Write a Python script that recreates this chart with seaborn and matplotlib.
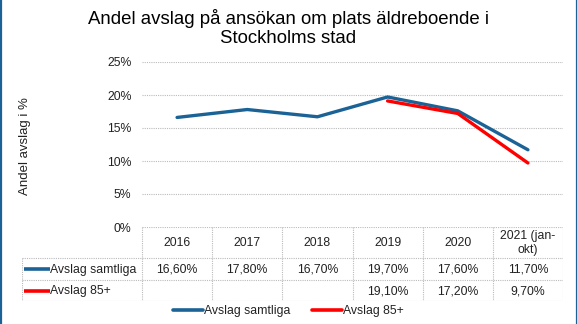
import matplotlib
matplotlib.use("Agg")
import matplotlib.pyplot as plt
from matplotlib.lines import Line2D
import seaborn as sns
import pandas as pd
import numpy as np

years = ["2016", "2017", "2018", "2019", "2020", "2021 (jan-\nokt)"]
samtliga = [16.6, 17.8, 16.7, 19.7, 17.6, 11.7]
avslag85 = [None, None, None, 19.1, 17.2, 9.7]
series_names = ["Avslag samtliga", "Avslag 85+"]
yticks = [0, 5, 10, 15, 20, 25]

BLUE = "#1B6396"
RED = "#FF0000"
colors = [BLUE, RED]
FS = 8.8

sns.set_theme(style="white")
plt.rcParams["font.family"] = ["Liberation Sans", "DejaVu Sans"]

W, H = 577, 324
fig = plt.figure(figsize=(W / 100, H / 100), dpi=100)

def px_box(x0, y0, x1, y1):
    return [x0 / W, 1 - y1 / H, (x1 - x0) / W, (y1 - y0) / H]

ax = fig.add_axes(px_box(142, 62, 563, 227))

rows = []
for i, y in enumerate(years):
    rows.append({"x": i, "value": samtliga[i], "serie": series_names[0]})
    if avslag85[i] is not None:
        rows.append({"x": i, "value": avslag85[i], "serie": series_names[1]})
df = pd.DataFrame(rows)

sns.lineplot(data=df, x="x", y="value", hue="serie", palette=colors,
             hue_order=series_names, linewidth=2.4, ax=ax, legend=False)

ax.set_xlim(-0.5, len(years) - 0.5)
ax.set_ylim(0, 25)
ax.set_yticks(yticks)
ax.set_yticklabels([f"{t}%" for t in yticks], fontsize=FS, color="#222222")
ax.set_xticks([])
ax.set_xlabel("")
ax.set_ylabel("")
for sp in ax.spines.values():
    sp.set_visible(False)
ax.tick_params(axis="y", length=0, pad=7.5)
for t in yticks[1:]:
    ax.axhline(t, color="#BBBBBB", lw=0.8, ls=(0, (1, 1)), zorder=0)

# data table
tab = fig.add_axes(px_box(22, 227, 563, 301))
tab.set_xlim(22, 563)
tab.set_ylim(301, 227)
tab.axis("off")
gc = "#BBBBBB"
gls = (0, (1, 1))
col_w = (563 - 142) / len(years)
col_edges = [142 + i * col_w for i in range(len(years) + 1)]
row_edges = [227, 258, 280, 301]
tab.plot([142, 563], [227, 227], color=gc, lw=0.8, ls=gls)
for ry in row_edges[1:]:
    tab.plot([22, 563], [ry, ry], color=gc, lw=0.8, ls=gls)
for cx in col_edges:
    tab.plot([cx, cx], [227, 301], color=gc, lw=0.8, ls=gls)
tab.plot([22, 22], [258, 301], color=gc, lw=0.8, ls=gls)

def fmt(v):
    return "" if v is None else f"{v:.2f}".replace(".", ",") + "%"

for i, y in enumerate(years):
    cx = (col_edges[i] + col_edges[i + 1]) / 2
    tab.text(cx, (row_edges[0] + row_edges[1]) / 2 + 0.5, y, ha="center", va="center",
             fontsize=FS, color="#222222", linespacing=1.15)
    tab.text(cx, (row_edges[1] + row_edges[2]) / 2 + 0.5, fmt(samtliga[i]), ha="center",
             va="center", fontsize=FS, color="#222222")
    tab.text(cx, (row_edges[2] + row_edges[3]) / 2 + 0.5, fmt(avslag85[i]), ha="center",
             va="center", fontsize=FS, color="#222222")
for r, (name, c) in enumerate(zip(series_names, colors)):
    ym = (row_edges[r + 1] + row_edges[r + 2]) / 2
    tab.plot([24, 50], [ym, ym], color=c, lw=2.6, solid_capstyle="butt")
    tab.text(50.5, ym + 0.5, name, ha="left", va="center", fontsize=FS, color="#222222")

# title
fig.text(0.5, 1 - 28 / H, "Andel avslag på ansökan om plats äldreboende i\nStockholms stad",
         ha="center", va="center", fontsize=13.4, color="black", linespacing=1.12)

# y label
fig.text(25 / W, 1 - 146 / H, "Andel avslag i %", rotation=90, ha="center", va="center",
         fontsize=9.5, color="#222222")

# legend
handles = [Line2D([], [], color=c, lw=2.6) for c in colors]
fig.legend(handles, series_names, loc="center", bbox_to_anchor=(0.5, 1 - 311 / H),
           ncol=2, frameon=False, fontsize=FS, handlelength=2.4, handletextpad=0.1,
           columnspacing=1.8, labelcolor="#222222")

# side borders
fig.add_artist(Line2D([0.5 / W, 0.5 / W], [0, 1], color=BLUE, lw=1.6, transform=fig.transFigure))
fig.add_artist(Line2D([1 - 0.5 / W, 1 - 0.5 / W], [0, 1], color=BLUE, lw=1.6, transform=fig.transFigure))

fig.savefig("out.png", dpi=100)
